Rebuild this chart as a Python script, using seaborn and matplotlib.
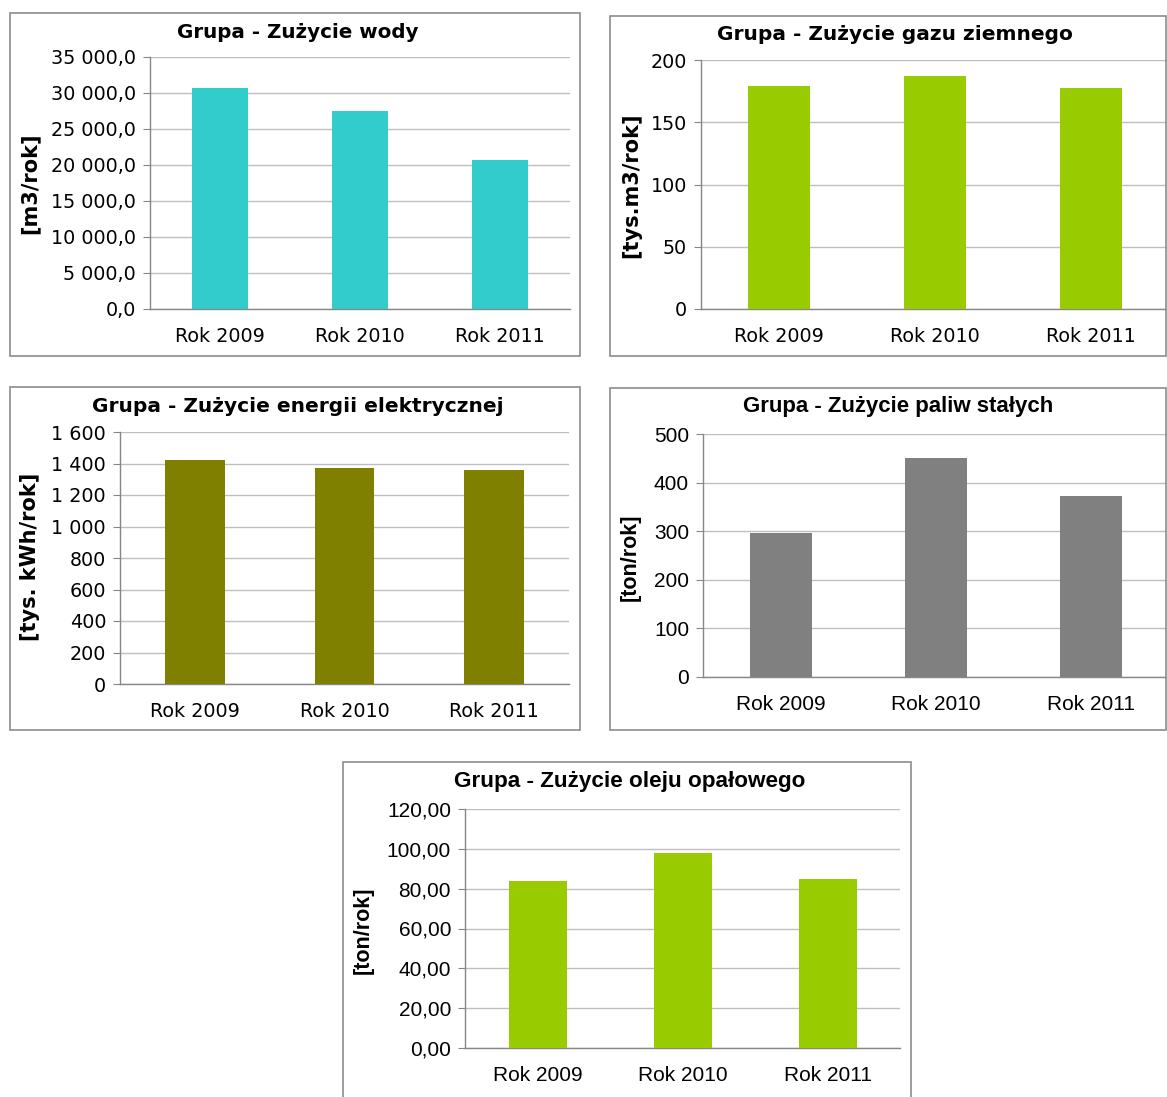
import matplotlib
matplotlib.use("Agg")
import matplotlib.pyplot as plt
import seaborn as sns
import pandas as pd
from matplotlib.patches import Rectangle
from matplotlib.ticker import FuncFormatter, FixedLocator

sns.set_style("white")
plt.rcParams["text.color"] = "black"
plt.rcParams["xtick.labelcolor"] = "black"
plt.rcParams["ytick.labelcolor"] = "black"

years = ["Rok 2009", "Rok 2010", "Rok 2011"]
woda = [30750, 27450, 20720]
gaz = [179.2, 187.2, 177.6]
energia = [1422, 1371, 1358]
paliwa = [297, 450, 372]
olej = [83.9, 98.0, 84.9]

W, H = 1167, 1097
fig = plt.figure(figsize=(W / 100, H / 100), dpi=100)

GRID = "#BFBFBF"
AXC = "#868686"
BOX = "#8C8C8C"


def pl_fmt(dec):
    def f(v, pos):
        s = f"{v:,.{dec}f}"
        return s.replace(",", " ").replace(".", ",")
    return FuncFormatter(f)


def box(x0, y0, x1, y1):
    fig.patches.append(Rectangle((x0 / W, 1 - y1 / H), (x1 - x0) / W, (y1 - y0) / H,
                                 transform=fig.transFigure, fill=False,
                                 edgecolor=BOX, lw=1.2, zorder=0))


def panel(vals, color, plot, boxc, title, title_xy, ylab, ylab_xy, ymax, step, dec,
          family, tsize, lsize, ysize):
    x0, y0, x1, y1 = plot
    box(*boxc)
    ax = fig.add_axes([x0 / W, 1 - y1 / H, (x1 - x0) / W, (y1 - y0) / H])
    df = pd.DataFrame({"rok": years, "v": vals})
    sns.barplot(data=df, x="rok", y="v", color=color, saturation=1, width=0.4,
                ax=ax, zorder=3, linewidth=0)
    ax.set_xlim(-0.5, 2.5)
    ax.set_ylim(0, ymax)
    ticks = [i * step for i in range(int(round(ymax / step)) + 1)]
    ax.yaxis.set_major_locator(FixedLocator(ticks))
    ax.yaxis.set_major_formatter(pl_fmt(dec))
    ax.set_xlabel("")
    ax.set_ylabel("")
    for s in ["top", "right"]:
        ax.spines[s].set_visible(False)
    for s in ["left", "bottom"]:
        ax.spines[s].set_color(AXC)
        ax.spines[s].set_linewidth(1)
    ax.grid(axis="y", color=GRID, lw=1, zorder=0)
    ax.set_axisbelow(True)
    ax.set_xticks([-0.5, 0.5, 1.5, 2.5], minor=True)
    ax.tick_params(axis="x", which="major", length=0, pad=13, labelsize=lsize,
                   labelcolor="black")
    ax.tick_params(axis="x", which="minor", length=5, color=AXC, direction="out")
    ax.tick_params(axis="y", which="major", length=5, color=AXC, direction="out",
                   left=True, pad=5, labelsize=lsize, labelcolor="black")
    for t in ax.get_xticklabels() + ax.get_yticklabels():
        t.set_fontfamily(family)
    fig.text(title_xy[0] / W, 1 - title_xy[1] / H, title, ha="center", va="center",
             fontsize=tsize, fontweight="bold", family=family, color="black")
    fig.text(ylab_xy[0] / W, 1 - ylab_xy[1] / H, ylab, ha="center", va="center",
             rotation=90, fontsize=ysize, fontweight="bold", family=family,
             color="black")
    return ax


FA = ["DejaVu Sans"]
FB = ["Liberation Sans", "DejaVu Sans"]

panel(woda, "#33CCCC", (150, 57, 570, 309), (10, 13, 580, 356),
      "Grupa - Zużycie wody", (298, 32), "[m3/rok]", (30, 183),
      35000, 5000, 1, FA, 14.3, 13.8, 15)
panel(gaz, "#99CC00", (701, 60, 1169, 309), (610, 16, 1166, 356),
      "Grupa - Zużycie gazu ziemnego", (895, 35), "[tys.m3/rok]", (631, 185),
      200, 50, 0, FA, 14.5, 13.8, 15)
panel(energia, "#808000", (120, 432, 569, 684), (10, 387, 580, 730),
      "Grupa - Zużycie energii elektrycznej", (298, 406), "[tys. kWh/rok]", (30, 557),
      1600, 200, 0, FA, 14.5, 13.8, 15)
panel(paliwa, "#808080", (703, 434, 1169, 677), (610, 388, 1166, 730),
      "Grupa - Zużycie paliw stałych", (898, 407), "[ton/rok]", (630, 557),
      500, 100, 0, FB, 16, 15, 15.5)
panel(olej, "#99CC00", (465, 809, 900, 1048), (343, 762, 911, 1100),
      "Grupa - Zużycie oleju opałowego", (630, 781), "[ton/rok]", (363, 930),
      120, 20, 2, FB, 16.2, 15, 15.5)

fig.savefig("out.png", dpi=100)
